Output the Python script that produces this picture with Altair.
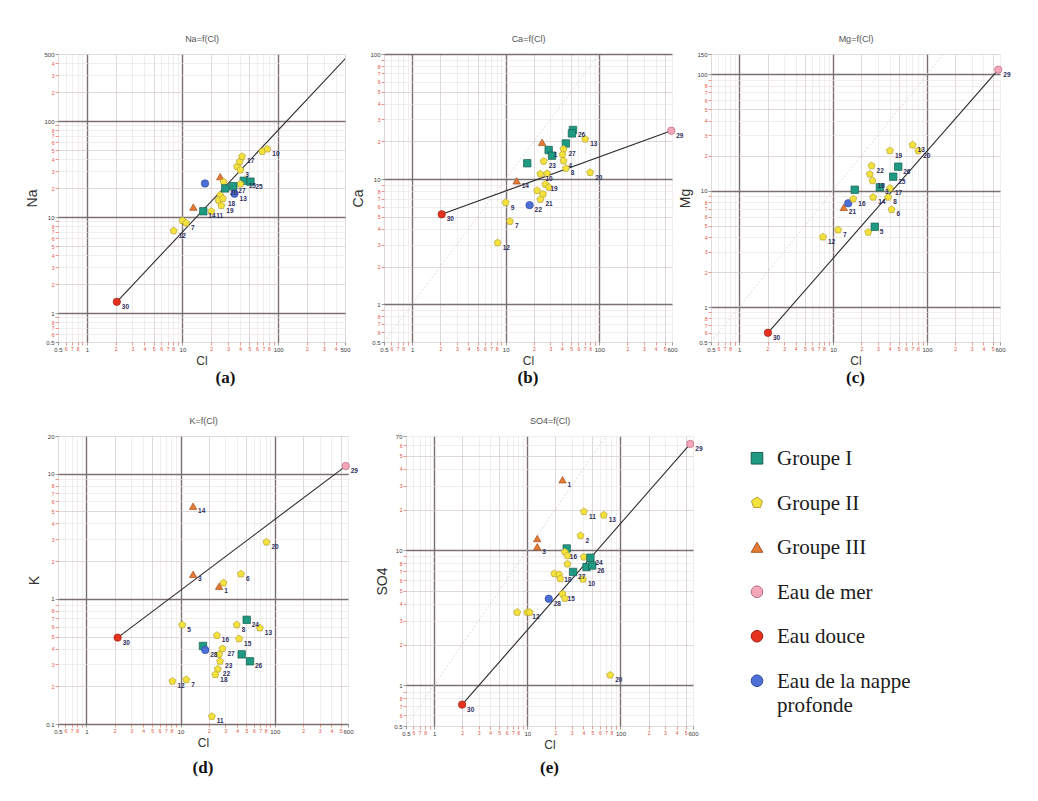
import json
import altair as alt
import pandas as pd

# ---------------- categories / styles ----------------
GROUPS = ["I", "II", "III", "mer", "douce", "nappe"]
GROUP_NAMES = ["Groupe I", "Groupe II", "Groupe III", "Eau de mer", "Eau douce",
               "Eau de la nappe\nprofonde"]
FILLS = ["#1f9a82", "#f3e23c", "#e37b35", "#f4a7b9", "#e4321f", "#4d6fd6"]
STROKES = ["#175e52", "#b9a235", "#a5521f", "#b86a80", "#9c2114", "#2d4aa0"]
PENTAGON = "M0,-1L0.951,-0.309L0.588,0.809L-0.588,0.809L-0.951,-0.309Z"
SHAPES = ["square", PENTAGON, "triangle-up", "circle", "circle", "circle"]

DECADES = [0.1, 1, 10, 100]
STEPS = [1, 2, 3, 4, 5, 6, 7, 8, 9]
DIAG = [0.5, 600]

# ---------------- (a) Na = f(Cl) ----------------
A_CL = [2.06, 8.1, 10.0, 10.9, 13.0, 16.5, 20, 17.2, 24.8, 26.9, 24.8, 23.8, 26.5, 28,
        25.5, 37.2, 39.7, 42, 40.3, 43.7, 51.4, 40.3, 68.3, 77.1, 34, 35]
A_NA = [1.31, 7.2, 9.2, 8.7, 12.7, 11.5, 11.5, 22.4, 26.4, 23.3, 16.9, 15.0, 15.6, 19.9,
        13.2, 33.6, 37.9, 42.8, 31, 23.9, 23.4, 22.1, 48.3, 51.2, 21, 17.5]
A_GRP = ["douce", "II", "II", "II", "III", "I", "II", "nappe", "III", "II", "II", "II", "II", "I",
         "II", "II", "II", "II", "II", "I", "I", "II", "II", "II", "I", "nappe"]
A_LAB = ["30", "12", "", "7", "", "14", "11", "", "", "", "", "", "18", "20",
         "19", "", "", "17", "3", "15", "25", "", "", "10", "27", "13"]
A_LINE_CL = [2.06, 560]
A_LINE_NA = [1.31, 500]

# ---------------- (b) Ca = f(Cl) ----------------
B_CL = [2.07, 589, 8.2, 11.1, 10.0, 18, 13.1, 24.5, 17, 28.8, 31.3, 44, 52.4, 51.1, 70.8,
        41.5, 40.5, 41.5, 25.5, 23.5, 27.7, 44, 80, 26.6, 21.7, 25.1, 23.5, 28.9]
B_CA = [5.24, 24.4, 3.1, 4.6, 6.5, 6.2, 9.7, 19.7, 13.4, 17.1, 15.4, 19.3, 24.7, 23.2, 20.9,
        17.4, 15.7, 14.0, 13.9, 11.0, 11.1, 12.2, 11.3, 9.1, 8.1, 7.6, 6.9, 8.6]
B_GRP = ["douce", "mer", "II", "II", "II", "nappe", "III", "III", "I", "I", "I", "I", "I", "I", "II",
         "II", "II", "II", "II", "II", "II", "II", "II", "II", "II", "II", "II", "II"]
B_LAB = ["30", "29", "12", "7", "9", "22", "14", "", "", "1", "", "", "26", "", "13",
         "27", "", "4", "23", "10", "", "8", "20", "19", "", "", "21", ""]
B_LINE_CL = [2.07, 589]
B_LINE_CA = [5.24, 24.4]

# ---------------- (c) Mg = f(Cl) ----------------
C_CL = [2.02, 575, 7.8, 11.3, 23.7, 27.8, 13, 14.5, 16.4, 17, 26.7, 42, 38.6, 40.3, 43.7,
        49.4, 31.5, 25.7, 24.6, 26.3, 40.3, 70.3, 80.7]
C_MG = [0.6, 110, 4.0, 4.6, 4.4, 4.9, 7.2, 7.8, 8.5, 10.2, 8.8, 6.9, 8.8, 10.5, 13.2,
        16.1, 10.7, 16.4, 13.9, 12.2, 22.1, 24.8, 22.1]
C_GRP = ["douce", "mer", "II", "II", "II", "I", "III", "nappe", "II", "I", "II", "II", "II", "II", "I",
         "I", "I", "II", "II", "II", "II", "II", "II"]
C_LAB = ["30", "29", "12", "7", "", "5", "21", "", "16", "", "14", "6", "8", "17", "25",
         "26", "3", "22", "", "18", "19", "13", "20"]
C_LINE_CL = [2.02, 575]
C_LINE_MG = [0.6, 110]

# ---------------- (d) K = f(Cl) ----------------
D_CL = [2.15, 568, 13.6, 81.7, 13.6, 43.8, 28.6, 25.7, 10.4, 8.2, 11.5, 21.5, 50.4, 39.5,
        69.5, 24.3, 41.8, 17.3, 18.3, 27.9, 25.7, 44.6, 54.6, 26.3, 24.9, 23.4]
D_K = [0.49, 11.5, 5.5, 2.84, 1.57, 1.58, 1.34, 1.26, 0.62, 0.22, 0.226, 0.115, 0.68, 0.62,
       0.586, 0.51, 0.48, 0.42, 0.39, 0.40, 0.36, 0.36, 0.317, 0.317, 0.275, 0.248]
D_GRP = ["douce", "mer", "III", "II", "III", "II", "II", "III", "II", "II", "II", "II", "I", "II",
         "II", "II", "II", "I", "nappe", "II", "II", "I", "I", "II", "II", "II"]
D_LAB = ["30", "29", "14", "20", "3", "6", "", "1", "5", "12", "7", "11", "24", "8",
         "13", "16", "15", "", "28", "27", "", "", "26", "23", "22", "18"]
D_LINE_CL = [2.15, 568]
D_LINE_K = [0.49, 11.5]

# ---------------- (e) SO4 = f(Cl) ----------------
E_CL = [2.0, 561, 77.6, 23.9, 40.5, 66.1, 37.3, 12.8, 12.8, 26.5, 25.3, 27, 27, 40.5, 47.6,
        43.2, 49.8, 31, 19.5, 22, 22.6, 39.6, 23.9, 25.3, 17, 7.8, 10, 10.6]
E_SO4 = [0.72, 61.2, 1.19, 33.2, 19.3, 18.2, 12.8, 12.2, 10.6, 10.3, 9.7, 9.1, 7.9, 8.9, 8.8,
         7.5, 7.7, 6.9, 6.7, 6.6, 6.15, 6.1, 4.75, 4.4, 4.37, 3.47, 3.47, 3.47]
E_GRP = ["douce", "mer", "II", "III", "II", "II", "II", "III", "III", "I", "II", "II", "II", "II", "I",
         "I", "I", "I", "II", "II", "II", "II", "II", "II", "nappe", "II", "II", "II"]
E_LAB = ["30", "29", "20", "1", "11", "13", "2", "", "3", "", "16", "", "", "", "24",
         "", "26", "27", "", "18", "", "10", "15", "", "28", "", "12", ""]
E_LINE_CL = [2.0, 561]
E_LINE_SO4 = [0.72, 61.2]

SANS = "Liberation Sans"
SERIF = "Liberation Serif"


def log_axis(lo, hi, title, title_size, title_pad):
    ticks = sorted({round(s * d, 6) for d in DECADES for s in STEPS
                    if lo - 1e-9 <= s * d <= hi + 1e-9} | {lo, hi})
    decs = [d for d in DECADES if lo <= d <= hi]
    majors = sorted(set(decs + [lo, hi]))
    t_major = f"indexof({json.dumps(majors)}, datum.value) >= 0"
    t_dec = f"indexof({json.dumps(decs)}, datum.value) >= 0"
    lead = "slice(format(datum.value, '.0e'), 0, 1)"
    t_25 = f"indexof(['2', '5'], {lead}) >= 0"
    return alt.Axis(
        values=ticks, title=title,
        labelExpr=f"{t_major} ? format(datum.value, '~g') : ({lead} == '9' ? '' : {lead})",
        labelColor={"condition": {"test": t_major, "value": "#3a3a3a"}, "value": "#e2503a"},
        labelFontSize={"condition": {"test": t_major, "value": 6}, "value": 5},
        tickColor={"condition": {"test": t_major, "value": "#555555"}, "value": "#e2503a"},
        gridColor={"condition": [{"test": t_dec, "value": "#7a7070"},
                                 {"test": t_25, "value": "#cdbfbf"}], "value": "#e9e0e0"},
        gridWidth={"condition": {"test": t_dec, "value": 1.4}, "value": 0.6},
        labelFont=SANS, labelOverlap=False, labelFlush=False, labelAngle=0,
        labelPadding=1, tickSize=3, tickWidth=0.6, domain=False,
        titleFont=SANS, titleFontSize=title_size, titleFontWeight="normal",
        titleColor="#333333", titlePadding=title_pad,
    )


def panel(cl, val, grp, lab, line_cl, line_v, xdom, ydom, yname, ptitle, cap,
          diag=False, width=287, height=288, cap_dx=0, cap_offset=4):
    df = pd.DataFrame({"cl": cl, "v": val, "grp": grp, "lab": lab})
    xs = alt.Scale(type="log", domain=xdom, nice=False)
    ys = alt.Scale(type="log", domain=ydom, nice=False)
    X = alt.X("cl:Q", scale=xs, axis=log_axis(xdom[0], xdom[1], "Cl", 12, 3))
    Y = alt.Y("v:Q", scale=ys, axis=log_axis(ydom[0], ydom[1], yname, 14, 4))
    layers = []
    if diag:
        ddf = pd.DataFrame({"cl": DIAG, "v": DIAG})
        layers.append(alt.Chart(ddf).mark_line(color="#d2d2d2", strokeWidth=0.8,
                                               strokeDash=[2, 2], clip=True).encode(x=X, y=Y))
    ldf = pd.DataFrame({"cl": line_cl, "v": line_v})
    layers.append(alt.Chart(ldf).mark_line(color="#2b2b2b", strokeWidth=1.1, clip=True)
                  .encode(x=X, y=Y))
    layers.append(alt.Chart(df).mark_point(filled=True, size=55, strokeWidth=0.7, opacity=1)
                  .encode(x=X, y=Y,
                          shape=alt.Shape("grp:N", scale=alt.Scale(domain=GROUPS, range=SHAPES), legend=None),
                          color=alt.Color("grp:N", scale=alt.Scale(domain=GROUPS, range=FILLS), legend=None),
                          stroke=alt.Stroke("grp:N", scale=alt.Scale(domain=GROUPS, range=STROKES), legend=None)))
    layers.append(alt.Chart(df).mark_text(align="left", baseline="middle", dx=5, dy=5,
                                          font=SANS, fontSize=6.5, fontWeight="bold",
                                          color="#2e2e5c")
                  .encode(x=X, y=Y, text="lab:N"))
    inner = alt.layer(*layers)
    dummy = alt.Chart(df).mark_point(opacity=0).encode(
        x=alt.X("cl:Q", scale=xs,
                axis=alt.Axis(orient="top", title=ptitle, labels=False, ticks=False,
                              domain=False, grid=False, titleFont=SANS, titleFontSize=9,
                              titleFontWeight="normal", titleColor="#555555",
                              titlePadding=11)),
        y=alt.Y("v:Q", scale=ys, axis=None))
    return (alt.layer(inner, dummy)
            .resolve_scale(x="independent", y="independent")
            .properties(width=width, height=height,
                        title=alt.TitleParams(cap, orient="bottom", font=SERIF, fontSize=17,
                                              fontWeight="bold", color="#111111",
                                              offset=cap_offset, dx=cap_dx)))


pa = panel(A_CL, A_NA, A_GRP, A_LAB, A_LINE_CL, A_LINE_NA, [0.5, 500], [0.5, 500],
           "Na", "Na=f(Cl)", "(a)", cap_dx=24)
pb = panel(B_CL, B_CA, B_GRP, B_LAB, B_LINE_CL, B_LINE_CA, [0.5, 600], [0.5, 100],
           "Ca", "Ca=f(Cl)", "(b)", diag=True, width=288)
pc = panel(C_CL, C_MG, C_GRP, C_LAB, C_LINE_CL, C_LINE_MG, [0.5, 600], [0.5, 150],
           "Mg", "Mg=f(Cl)", "(c)", diag=True, width=289)
pdd = panel(D_CL, D_K, D_GRP, D_LAB, D_LINE_CL, D_LINE_K, [0.5, 600], [0.1, 20],
            "K", "K=f(Cl)", "(d)", width=290, cap_offset=12)
pe = panel(E_CL, E_SO4, E_GRP, E_LAB, E_LINE_CL, E_LINE_SO4, [0.5, 600], [0.5, 70],
           "SO4", "SO4=f(Cl)", "(e)", diag=True, height=290, cap_offset=10)

# ---------------- legend block ----------------
leg_df = pd.DataFrame({"grp": GROUPS, "name": GROUP_NAMES})
LY = alt.Y("grp:N", sort=GROUPS, scale=alt.Scale(domain=GROUPS), axis=None)
leg_pts = alt.Chart(leg_df).mark_point(filled=True, size=135, strokeWidth=1, opacity=1).encode(
    x=alt.value(6), y=LY,
    shape=alt.Shape("grp:N", scale=alt.Scale(domain=GROUPS, range=SHAPES), legend=None),
    color=alt.Color("grp:N", scale=alt.Scale(domain=GROUPS, range=FILLS), legend=None),
    stroke=alt.Stroke("grp:N", scale=alt.Scale(domain=GROUPS, range=STROKES), legend=None))
leg_txt = alt.Chart(leg_df).mark_text(align="left", baseline="alphabetic", dy=7, font=SERIF,
                                      fontSize=21, color="#1b1b1b", lineBreak="\n",
                                      lineHeight=24).encode(
    x=alt.value(26), y=LY, text="name:N")
legend = alt.layer(leg_pts, leg_txt).properties(width=250, height=267)

row1 = alt.hconcat(pa, pb, pc, spacing=39, bounds="flush")
row2 = alt.hconcat(pdd, pe, legend, spacing=58, bounds="flush")

chart = (alt.vconcat(row1, row2, spacing=30)
         .properties(padding={"left": 17, "top": 26, "right": 5, "bottom": 5},
                     background="white")
         .configure_view(stroke=None))

chart.save("out.html", embed_options={"renderer": "svg", "actions": False})
